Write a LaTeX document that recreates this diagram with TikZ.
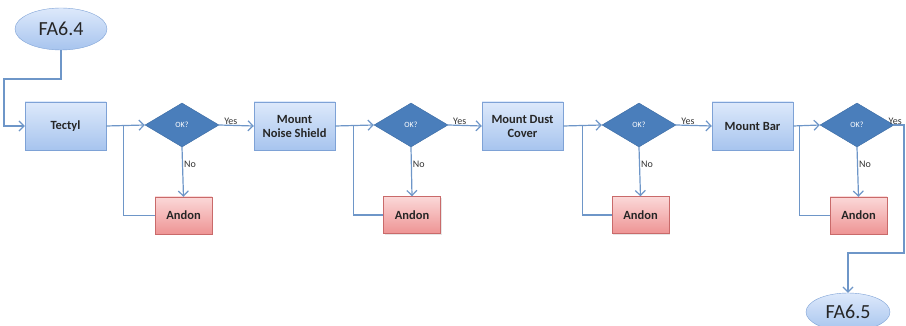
\documentclass[tikz,border=0pt]{standalone}
\usepackage{fontspec}
\setmainfont{Carlito}
\usetikzlibrary{shapes.geometric,arrows.meta,shadows}

\definecolor{flowline}{HTML}{6E96C8}
\definecolor{boxedge}{HTML}{7EA2D6}
\definecolor{boxtop}{HTML}{DDE9FB}
\definecolor{boxbot}{HTML}{A7C4EE}
\definecolor{checkfill}{HTML}{4A7EBB}
\definecolor{checkedge}{HTML}{3A6AA3}
\definecolor{alarmtop}{HTML}{FBD8D8}
\definecolor{alarmbot}{HTML}{EE9494}
\definecolor{alarmedge}{HTML}{C96A6A}

\tikzset{
  procbox/.style={rectangle, draw=boxedge, top color=boxtop, bottom color=boxbot,
    minimum width=81pt, minimum height=48pt, inner sep=1pt, align=center,
    font=\fontsize{12.5}{14}\selectfont\bfseries, text=black!85,
    drop shadow={opacity=0.2, shadow xshift=1pt, shadow yshift=-1.5pt}},
  check/.style={diamond, draw=checkedge, fill=checkfill, minimum width=74pt,
    minimum height=44pt, inner sep=0pt, text=white, font=\fontsize{8}{9}\selectfont},
  alarm/.style={rectangle, draw=alarmedge, top color=alarmtop, bottom color=alarmbot,
    minimum width=57pt, minimum height=37pt, inner sep=1pt,
    font=\fontsize{12.5}{14}\selectfont\bfseries, text=black!85,
    drop shadow={opacity=0.2, shadow xshift=1pt, shadow yshift=-1.5pt}},
  terminal/.style={ellipse, draw=boxedge, top color=boxtop, bottom color=boxbot,
    minimum width=92pt, minimum height=42pt, inner sep=0pt,
    font=\fontsize{20}{22}\selectfont, text=black!85},
  flow/.style={draw=flowline, line width=1.2pt},
  tip/.style={-{Straight Barb[length=5pt,width=10pt]}},
  lbl/.style={font=\fontsize{10}{11}\selectfont, text=black!80, inner sep=1pt}
}

\begin{document}
\begin{tikzpicture}[x=1pt,y=-1pt]
    \useasboundingbox (0,0) rectangle (906,326);
    % start and end
    \node[terminal] (fa64) at (61,29) {FA6.4};
    \node[terminal, minimum width=84pt, minimum height=38pt] (fa65) at (848,312) {FA6.5};
    % stage 1
    \node[procbox] (tectyl) at (65.5,126) {Tectyl};
    \node[check] (ok1) at (182,125) {OK?};
    \node[alarm] (andon1) at (183.5,215.5) {Andon};
    % stage 2
    \node[procbox] (noise) at (294.5,126) {Mount\\Noise Shield};
    \node[check] (ok2) at (411,125) {OK?};
    \node[alarm] (andon2) at (412,215) {Andon};
    % stage 3
    \node[procbox] (dust) at (522.5,126) {Mount Dust\\Cover};
    \node[check] (ok3) at (639,125) {OK?};
    \node[alarm] (andon3) at (640.5,215) {Andon};
    % stage 4
    \node[procbox] (bar) at (752.5,126) {Mount Bar};
    \node[check] (ok4) at (857,125) {OK?};
    \node[alarm] (andon4) at (858.5,215.5) {Andon};

    \coordinate (c1) at (4,79);
    \coordinate (e1) at (904,253);

    % connectors
    \draw[flow,tip] (fa64.south) |- (c1) |- (tectyl.west);
    \draw[flow,tip] (tectyl.east) -- (ok1.west);
    \draw[flow,tip] (ok1.south) -- node[lbl,right,pos=0.35] {No} (andon1.north);
    \draw[flow] (andon1.west) -| ([xshift=17pt]tectyl.east);
    \draw[flow,tip] (ok1.east) -- node[lbl,pos=0.1,above right,yshift=-1pt] {Yes} (noise.west);

    \draw[flow,tip] (noise.east) -- (ok2.west);
    \draw[flow,tip] (ok2.south) -- node[lbl,right,pos=0.35] {No} (andon2.north);
    \draw[flow] (andon2.west) -| ([xshift=18pt]noise.east);
    \draw[flow,tip] (ok2.east) -- node[lbl,pos=0.1,above right,yshift=-1pt] {Yes} (dust.west);

    \draw[flow,tip] (dust.east) -- (ok3.west);
    \draw[flow,tip] (ok3.south) -- node[lbl,right,pos=0.35] {No} (andon3.north);
    \draw[flow] (andon3.west) -| ([xshift=19pt]dust.east);
    \draw[flow,tip] (ok3.east) -- node[lbl,pos=0.1,above right,yshift=-1pt] {Yes} (bar.west);

    \draw[flow,tip] (bar.east) -- (ok4.west);
    \draw[flow,tip] (ok4.south) -- node[lbl,right,pos=0.35] {No} (andon4.north);
    \draw[flow] (andon4.west) -| ([xshift=6pt]bar.east);
    \draw[flow,tip] (ok4.east) -| node[lbl,pos=0.05,above,yshift=-1pt] {Yes} (e1) -| (fa65.north);
\end{tikzpicture}
\end{document}
